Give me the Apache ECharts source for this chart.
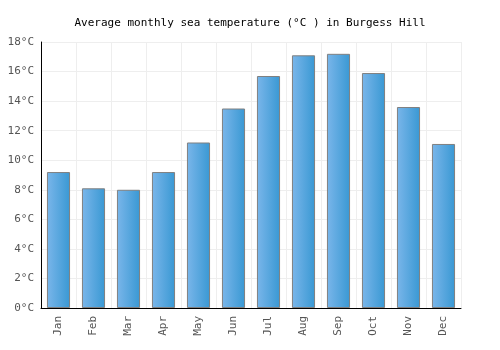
<!DOCTYPE html>
<html lang="en">
<head>
    <meta charset="UTF-8">
    <title>Average monthly sea temperature</title>
    <script src="https://cdn.jsdelivr.net/npm/echarts@6/dist/echarts.min.js"></script>
    <style>
        html, body { margin: 0; padding: 0; background: #fff; }
        .chart { width: 500px; height: 350px; }
    </style>
</head>
<body>
<div class="chart"></div>
<script>
    // month labels and sea temperature (°C)
    let months = ['Jan', 'Feb', 'Mar', 'Apr', 'May', 'Jun', 'Jul', 'Aug', 'Sep', 'Oct', 'Nov', 'Dec'];
    let temps = [9.2, 8.1, 8.0, 9.2, 11.2, 13.5, 15.7, 17.1, 17.2, 15.9, 13.6, 11.1];

    let font = 'DejaVu Sans Mono';
    let chart = echarts.init(document.querySelector('.chart'));

    let option = {
        animation: false,
        title: {
            text: 'Average monthly sea temperature (°C ) in Burgess Hill',
            left: 'center',
            top: 13,
            textStyle: {fontFamily: font, fontSize: 11, fontWeight: 'normal', color: '#000'}
        },
        grid: {left: 41, right: 39, top: 42, bottom: 42},
        xAxis: {
            type: 'category',
            data: months,
            axisLine: {lineStyle: {color: '#000'}},
            axisTick: {show: false},
            splitLine: {show: true, lineStyle: {color: '#eeeeee'}},
            axisLabel: {rotate: 90, fontFamily: font, fontSize: 11, color: '#555', margin: 8}
        },
        yAxis: {
            type: 'value',
            min: 0,
            max: 18,
            interval: 2,
            axisLine: {show: true, lineStyle: {color: '#000'}},
            axisTick: {show: false},
            splitLine: {lineStyle: {color: '#eeeeee'}},
            axisLabel: {formatter: '{value}°C', fontFamily: font, fontSize: 11, color: '#555', margin: 7}
        },
        series: [
            {
                type: 'bar',
                data: temps,
                barWidth: '66%',
                itemStyle: {
                    borderColor: '#808080',
                    borderWidth: 1,
                    color: new echarts.graphic.LinearGradient(0, 0, 1, 0, [
                        {offset: 0, color: '#7ab6ea'},
                        {offset: 1, color: '#3998d3'}
                    ])
                }
            }
        ]
    };

    chart.setOption(option);
</script>
</body>
</html>
